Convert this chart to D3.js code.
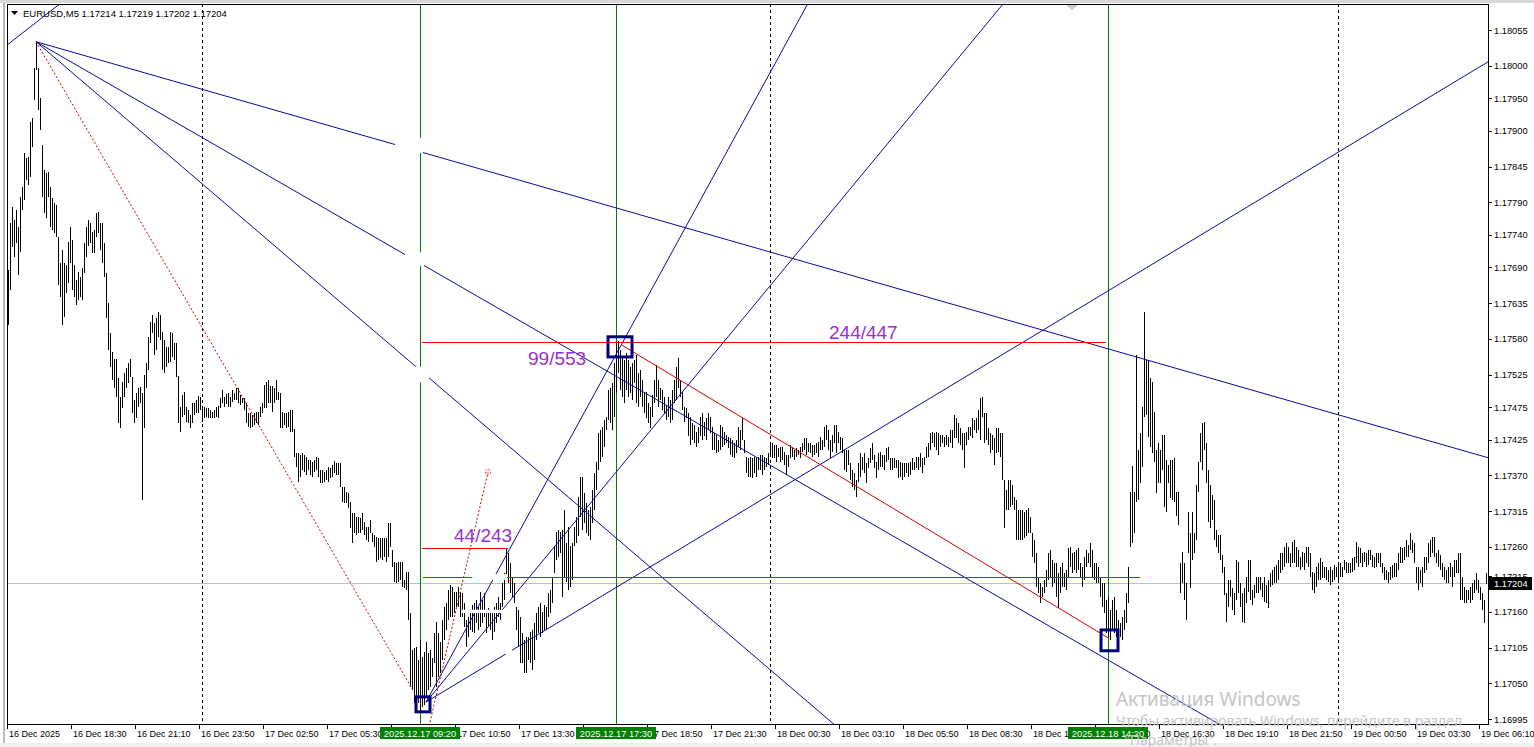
<html>
<head>
<meta charset="utf-8">
<script src="https://d3js.org/d3.v7.min.js"></script>
<style>
  body { margin: 0; background: #fff; overflow: hidden; }
  text { font-family: "Liberation Sans", Arial, sans-serif; }
</style>
</head>
<body>
<div id="chart"></div>
<script>

// EURUSD M5 bars, 16 Dec 15:50 .. 19 Dec 06:10
// prices kept in points (0.00001) above 1.17000
var basePrice = 1.17, pt = 0.00001;

var highPts = [
  686,758,783,763,778,752,798,813,866,858, 860,913,920,996,1037,996,950,878,840,835,
  837,813,797,789,786,737,697,717,697,694, 729,752,732,694,670,683,675,689,727,752,
  763,758,744,747,773,775,758,758,727,681, 635,
  589,560,549,549,520,490,513,527,535,543, 549,521,486,496,504,506,496,524,543,583,
  606,617,604,612,621,617,590,578,567,567, 590,589,573,573,523,475,493,498,475,470,
  463,481,481,486,492,490,475,475,473,473, 470,467,470,475,477,489,501,490,495,496,
  490,501,496,504,504,493,489,489,481,466, 466,463,466,467,467,475,481,509,513,517,
  507,507,504,517,498,496,467,466,466,467, 470,470,441,404,404,401,404,401,398,393,
  393,390,393,398,396,378,378,375,378,383, 381,386,392,389,389,389,352,352,344,343,
  329,312,312,306,306,304,312,298,290,290, 301,281,278,275,273,273,273,273,273,296,
  296,255,236,235,236,236,236,209,221,221, 158,101,104,106,86,
  117,90,98,113,96,101,89,127,144,127, 113,147,167,173,194,201,198,190,190,198,
  190,189,173,147,152,163,170,173,178,167, 190,178,189,163,166,158,160,167,173,183,
  173,204,219,258,250,235,213,204,167,163, 152,127,117,121,121,129,132,143,158,167,
  173,160,170,167,189,194,213,261,282,286,283,
  286,317,266,291,261,266,291,306,337,368, 368,343,327,317,321,347,373,390,435,439,
  444,455,460,501,504,512,543,573,577,563, 552,547,558,547,537,543,547,555,527,532,
  517,498,498,481,475,493,517,540,517,504, 501,490,478,490,486,501,517,537,550,517,
  498,475,473,466,460,450,447,436,444,460, 466,452,458,466,460,444,435,432,424,447,
  444,436,432,429,427,424,420,424,444,440, 458,424,398,396,398,396,398,396,398,401,
  401,398,396,404,421,420,416,416,412,413, 413,406,401,401,416,413,409,412,409,413,
  420,427,427,420,420,416,416,420,421,429, 424,444,447,440,424,432,447,447,436,429,
  427,409,409,409,389,378,373,363,389,404, 398,404,389,396,412,420,401,390,404,406,
  401,401,412,413,396,396,396,393,393,390, 389,389,389,389,390,396,390,398,398,404,
  396,398,413,420,435,436,435,436,435,432, 432,429,432,429,440,440,463,458,450,443,
  435,435,436,444,444,458,455,458,470,489, 490,466,466,443,435,432,427,443,443,435,
  435,363,347,363,
  363,355,337,332,317,317,317,314,317,320, 306,281,270,250,213,204,198,209,224,250,
  255,240,235,235,219,229,235,219,224,258, 260,250,252,255,258,235,229,244,255,250,
  266,255,235,235,229,213,204,204,178,183, 163,178,183,163,147,143,152,163,189,229,
  344,384,344,555,409,435,475,621,547,547, 520,513,467,409,420,409,432,432,393,386,
  393,393,396,344,344,235,252,235,204,313, 281,313,281,355,390,435,450,452,420,378,
  355,340,332,286,278,278,247,229,189,209, 209,197,189,240,236,204,189,197,214,240,
  240,194,201,214,214,214,204,214,201,209, 219,224,229,232,240,250,250,260,266,260,
  250,267,270,260,255,244,252,250,260,260, 250,221,219,229,235,243,236,229,229,224,
  229,224,232,229,236,235,229,240,236,235, 235,243,244,267,260,258,250,252,250,255,
  255,247,244,250,250,250,235,229,224,221, 229,232,235,235,250,260,258,260,270,263,
  281,270,266,229,229,224,229,244,244,266, 270,275,275,250,255,247,235,229,224,229,
  235,229,240,240,250,250,214,198,194,194, 198,204,209,219,209,198,189,178,219
];

var lowPts = [
  601,655,721,706,727,678,713,778,793,824, 816,829,875,947,993,932,901,798,773,766,
  798,752,747,742,737,663,644,601,613,650, 666,697,655,644,632,640,644,640,681,706,
  722,727,712,712,737,742,717,697,675,612, 563,
  537,517,504,490,450,443,473,490,504,512, 521,466,450,458,475,481,332,443,504,532,
  573,589,555,563,583,578,532,527,537,543, 544,552,547,521,450,437,460,463,452,450,
  443,450,463,466,466,470,452,458,460,458, 458,458,458,460,458,473,481,475,480,475,
  475,483,486,486,481,478,481,470,450,445, 443,445,447,450,447,460,466,473,473,481,
  481,467,481,486,486,443,443,447,443,445, 436,436,398,383,360,367,378,375,370,378,
  370,367,375,378,367,358,358,360,363,360, 366,367,373,370,370,352,329,327,327,320,
  289,266,281,278,281,281,286,278,270,267, 281,267,260,236,239,243,239,244,236,244,
  260,229,206,204,206,209,198,197,193,148, 44,40,19,13,19,
  4,13,16,31,40,44,60,81,44,60, 66,86,117,132,147,152,152,158,167,167,
  152,152,137,106,121,132,129,127,143,132, 137,143,152,127,137,132,117,129,143,152,
  147,167,178,213,204,189,183,173,132,106, 81,81,66,66,86,81,70,86,117,127,
  121,127,132,132,152,158,173,219,240,244,250,
  183,214,205,194,198,209,261,266,276,306, 286,297,281,276,270,297,317,347,378,390,
  398,414,440,455,450,440,460,498,527,501, 490,481,501,490,496,486,512,481,475,490,
  475,466,458,450,443,460,481,490,475,486, 470,466,455,460,450,455,481,486,504,490,
  470,452,458,430,417,424,420,413,420,430, 424,430,424,440,435,409,409,404,406,409,
  413,416,420,412,401,398,396,404,413,409, 424,404,373,367,367,366,373,367,378,378,
  370,378,383,386,401,396,396,390,398,390, 393,386,370,383,396,398,393,398,401,396,
  406,409,401,406,404,398,401,404,398,409, 409,413,424,409,396,406,420,404,420,409,
  404,378,375,386,363,352,347,337,360,367, 378,373,358,381,389,393,381,366,378,383,
  383,378,390,393,378,378,381,381,366,367, 363,367,373,367,370,378,378,381,378,383,
  373,386,396,398,409,420,413,409,401,413, 420,413,416,413,420,412,427,427,420,416,
  409,381,416,424,430,427,440,435,440,424, 460,420,424,416,404,409,386,404,406,398,
  363,289,317,317,
  321,324,317,270,270,270,270,273,276,281, 281,244,235,198,189,173,183,189,198,209,
  214,198,204,183,166,189,198,198,194,214, 229,219,224,219,224,214,198,209,229,235,
  229,214,209,204,204,183,167,158,127,121, 117,132,127,121,127,121,117,132,143,173,
  259,266,281,329,332,358,383,460,463,429, 413,404,390,343,358,358,378,321,313,358,
  335,332,329,307,293,189,204,178,147,250, 197,240,250,270,345,390,378,409,358,298,
  289,301,270,260,250,240,219,186,145,167, 183,163,155,178,189,167,145,143,173,190,
  178,170,181,189,189,194,183,175,173,166, 198,201,204,204,209,219,224,229,235,235,
  229,235,235,229,229,224,229,224,235,229, 214,194,189,198,209,209,212,212,209,206,
  201,206,209,214,204,214,214,224,219,219, 219,221,224,235,229,235,229,236,229,232,
  240,229,227,229,235,229,219,209,209,204, 209,212,214,214,224,235,235,240,244,244,
  255,250,235,204,194,204,198,219,224,235, 244,250,244,235,229,224,214,209,204,204,
  214,198,214,219,219,178,178,173,173,178, 173,178,189,194,189,178,163,143,202
];

var priceTicks = [1.18055, 1.18000, 1.17950, 1.17900, 1.17845, 1.17790, 1.17740, 1.17690,
  1.17635, 1.17580, 1.17525, 1.17475, 1.17425, 1.17370, 1.17315, 1.17260, 1.17215,
  1.17160, 1.17105, 1.17050, 1.16995];

// one label every 32 bars
var timeLabelStep = 32;
var timeLabels = ["16 Dec 2025", "16 Dec 18:30", "16 Dec 21:10", "16 Dec 23:50", "17 Dec 02:50",
  "17 Dec 05:30", "17 Dec 08:10", "17 Dec 10:50", "17 Dec 13:30", "17 Dec 16:10", "17 Dec 18:50",
  "17 Dec 21:30", "18 Dec 00:30", "18 Dec 03:10", "18 Dec 05:50", "18 Dec 08:30", "18 Dec 11:10",
  "18 Dec 13:50", "18 Dec 16:30", "18 Dec 19:10", "18 Dec 21:50", "19 Dec 00:50", "19 Dec 03:30",
  "19 Dec 06:10"];

var daySeparatorBars = [97, 381, 665];
var markerBars = [206, 304, 550];
var markerLabels = ["2025.12.17 09:20", "2025.12.17 17:30", "2025.12.18 14:20"];

var lastPrice = 1.17204;
var headerText = "EURUSD,M5  1.17214 1.17219 1.17202 1.17204";

// drawn objects, points as [bar, price]
var fanTop = [14, 1.18037];
var fanTopThrough = [[740, 1.17397], [600, 1.16997], [400, 1.17021]];
var fanBottom = [209, 1.17021];
var fanBottomThrough = [[306, 1.17567], [400, 1.17732], [740, 1.18006]];
var cornerRay = [[0, 1.18033], [25, 1.18093]];

var levelLines = [[207, 549, 1.17575], [207, 250, 1.17258], [207.5, 566, 1.17213]];
var redTrend = [[307, 1.17570], [550, 1.17120]];
var redDotted = [[[14, 1.18037], [208, 1.17010]], [[211, 1.16990], [240, 1.17375]]];
var boxes = [[300, 1.17583, 312, 1.17552], [204, 1.17029, 211, 1.17006], [546.5, 1.17132, 555, 1.17100]];
var countLabels = [["99/553", 260, 1.17540], ["244/447", 410.5, 1.17580], ["44/243", 223, 1.17267]];

// blank (white) label objects that hide parts of the lines
var blankObjects = [[193.5, 1.17889, 207.5, 1.17866], [198.5, 1.17713, 208, 1.17692],
  [202, 1.17537, 210.5, 1.17513], [232, 1.17218, 249.5, 1.17209], [227, 1.17163, 251, 1.17158],
  [243.5, 1.17110, 252, 1.17095]];

var W = 1534, H = 747;
var frame = { left: 7, top: 4, right: 1488, bottom: 724 };

var svg = d3.select("#chart").append("svg")
    .attr("width", W)
    .attr("height", H);

svg.append("rect").attr("width", W).attr("height", H).attr("fill", "#fff");
svg.append("rect").attr("width", W).attr("height", 3).attr("fill", "#d8d8d8");
svg.append("rect").attr("x", 3).attr("y", 3).attr("width", 2).attr("height", H).attr("fill", "#b8b8b8");
svg.append("rect").attr("y", 743).attr("width", W).attr("height", 4).attr("fill", "#f0f0f0");

var x = d3.scaleLinear().domain([0, 739]).range([8, 1486]);
var y = d3.scaleLinear().domain([1.16995, 1.18055]).range([719, 30]);
function px(b) { return Math.round(x(b)) + 0.5; }
function py(p) { return Math.round(y(p)) + 0.5; }
function pt2(d) { return [x(d[0]), y(d[1])]; }

svg.append("clipPath").attr("id", "plot")
  .append("rect")
    .attr("x", frame.left + 1).attr("y", frame.top + 1)
    .attr("width", frame.right - frame.left - 1)
    .attr("height", frame.bottom - frame.top - 1);

var plot = svg.append("g").attr("clip-path", "url(#plot)");

// day separators
plot.selectAll(".sep")
  .data(daySeparatorBars)
  .enter().append("line")
    .attr("class", "sep")
    .attr("x1", px).attr("x2", px)
    .attr("y1", frame.top).attr("y2", frame.bottom)
    .attr("stroke", "#000")
    .attr("stroke-dasharray", "3,3");

// current price line
plot.append("line")
    .attr("x1", frame.left).attr("x2", frame.right)
    .attr("y1", py(lastPrice)).attr("y2", py(lastPrice))
    .attr("stroke", "#c0c0c0");

// green time markers
plot.selectAll(".mk")
  .data(markerBars)
  .enter().append("line")
    .attr("class", "mk")
    .attr("x1", px).attr("x2", px)
    .attr("y1", frame.top).attr("y2", frame.bottom)
    .attr("stroke", "#008000");

// price bars
plot.append("g")
    .attr("shape-rendering", "crispEdges")
  .selectAll("line")
  .data(highPts.map(function (h, i) { return { i: i, hi: basePrice + h * pt, lo: basePrice + lowPts[i] * pt }; }))
  .enter().append("line")
    .attr("x1", function (d) { return px(d.i); })
    .attr("x2", function (d) { return px(d.i); })
    .attr("y1", function (d) { return Math.round(y(d.hi)); })
    .attr("y2", function (d) { return Math.max(Math.round(y(d.lo)), Math.round(y(d.hi)) + 1); })
    .attr("stroke", "#000");

// blue fan rays
function ray(a, b) {
  var p = pt2(a), q = pt2(b);
  return [p, [p[0] + (q[0] - p[0]) * 60, p[1] + (q[1] - p[1]) * 60]];
}
var rays = fanTopThrough.map(function (d) { return ray(fanTop, d); })
  .concat(fanBottomThrough.map(function (d) { return ray(fanBottom, d); }))
  .concat([ray(cornerRay[0], cornerRay[1])]);

plot.selectAll(".ray")
  .data(rays)
  .enter().append("line")
    .attr("class", "ray")
    .attr("x1", function (d) { return d[0][0]; })
    .attr("y1", function (d) { return d[0][1]; })
    .attr("x2", function (d) { return d[1][0]; })
    .attr("y2", function (d) { return d[1][1]; })
    .attr("stroke", "#0a0a96");

// red levels and trend
plot.selectAll(".lvl")
  .data(levelLines)
  .enter().append("path")
    .attr("class", "lvl")
    .attr("d", function (d) { return "M" + x(d[0]) + "," + py(d[2]) + "H" + x(d[1]); })
    .attr("fill", "none")
    .attr("stroke", "#ff0000");

plot.append("line")
    .attr("x1", x(redTrend[0][0])).attr("y1", y(redTrend[0][1]))
    .attr("x2", x(redTrend[1][0])).attr("y2", y(redTrend[1][1]))
    .attr("stroke", "#d40000");

plot.selectAll(".dot")
  .data(redDotted)
  .enter().append("line")
    .attr("class", "dot")
    .attr("x1", function (d) { return x(d[0][0]); })
    .attr("y1", function (d) { return y(d[0][1]); })
    .attr("x2", function (d) { return x(d[1][0]); })
    .attr("y2", function (d) { return y(d[1][1]); })
    .attr("stroke", "#c80000")
    .attr("stroke-dasharray", "2,2");

var dotEnd = redDotted[1][1];
plot.append("circle")
    .attr("cx", x(dotEnd[0])).attr("cy", y(dotEnd[1])).attr("r", 2.5)
    .attr("fill", "none").attr("stroke", "#c80000").attr("stroke-dasharray", "1.5,1.5");

// white blank objects
plot.selectAll(".blank")
  .data(blankObjects)
  .enter().append("rect")
    .attr("class", "blank")
    .attr("x", function (d) { return x(d[0]); })
    .attr("y", function (d) { return y(d[1]); })
    .attr("width", function (d) { return x(d[2]) - x(d[0]); })
    .attr("height", function (d) { return y(d[3]) - y(d[1]); })
    .attr("fill", "#fff");

// rectangles
plot.selectAll(".box")
  .data(boxes)
  .enter().append("rect")
    .attr("class", "box")
    .attr("x", function (d) { return x(d[0]); })
    .attr("y", function (d) { return y(d[1]); })
    .attr("width", function (d) { return x(d[2]) - x(d[0]); })
    .attr("height", function (d) { return y(d[3]) - y(d[1]); })
    .attr("fill", "none")
    .attr("stroke", "#00007a")
    .attr("stroke-width", 3);

plot.selectAll(".cnt")
  .data(countLabels)
  .enter().append("text")
    .attr("class", "cnt")
    .attr("x", function (d) { return x(d[1]); })
    .attr("y", function (d) { return y(d[2]); })
    .attr("fill", "#9a2fd0")
    .style("font-size", "19px")
    .text(function (d) { return d[0]; });

// frame
svg.append("rect")
    .attr("x", frame.left + 0.5).attr("y", frame.top + 0.5)
    .attr("width", frame.right - frame.left).attr("height", frame.bottom - frame.top)
    .attr("fill", "none").attr("stroke", "#000");

// top shift marker
svg.append("path")
    .attr("d", "M1066,5 L1078,5 L1072,10 Z")
    .attr("fill", "#c8c8c8");

// price axis
var pa = svg.append("g");
pa.selectAll("line")
  .data(priceTicks)
  .enter().append("line")
    .attr("x1", frame.right).attr("x2", frame.right + 4)
    .attr("y1", py).attr("y2", py)
    .attr("stroke", "#000");
pa.selectAll("text")
  .data(priceTicks)
  .enter().append("text")
    .attr("x", frame.right + 6)
    .attr("y", function (d) { return y(d) + 3.5; })
    .style("font-size", "9.3px")
    .text(function (d) { return d.toFixed(5); });

svg.append("rect")
    .attr("x", frame.right + 1).attr("y", Math.round(y(lastPrice)) - 6)
    .attr("width", 43).attr("height", 13)
    .attr("fill", "#000");
svg.append("text")
    .attr("x", frame.right + 6).attr("y", y(lastPrice) + 4)
    .attr("fill", "#fff")
    .style("font-size", "9.3px")
    .text(lastPrice.toFixed(5));

// time axis
var ta = svg.append("g");
ta.selectAll("line")
  .data(timeLabels)
  .enter().append("line")
    .attr("x1", function (d, k) { return px(k * timeLabelStep) - 1; })
    .attr("x2", function (d, k) { return px(k * timeLabelStep) - 1; })
    .attr("y1", frame.bottom).attr("y2", frame.bottom + 5)
    .attr("stroke", "#000");
ta.selectAll("text")
  .data(timeLabels)
  .enter().append("text")
    .attr("x", function (d, k) { return x(k * timeLabelStep) + 1; })
    .attr("y", 737)
    .style("font-size", "9px")
    .text(function (d) { return d; });

var mk = svg.append("g");
mk.selectAll("rect")
  .data(markerBars)
  .enter().append("rect")
    .attr("x", function (d) { return x(d) - 40; })
    .attr("y", 727)
    .attr("width", 80).attr("height", 12)
    .attr("fill", "#008000");
mk.selectAll("text")
  .data(markerBars)
  .enter().append("text")
    .attr("x", function (d) { return x(d); })
    .attr("y", 737)
    .attr("text-anchor", "middle")
    .attr("fill", "#fff")
    .style("font-size", "9.3px")
    .text(function (d, k) { return markerLabels[k]; });

// header
svg.append("path").attr("d", "M11,11 L18,11 L14.5,15 Z").attr("fill", "#000");
svg.append("text")
    .attr("x", 23).attr("y", 16.5)
    .style("font-size", "9.5px")
    .text(headerText);

// windows activation watermark
var wm = svg.append("g").attr("fill", "#c4c4c4");
wm.append("text").attr("x", 1116).attr("y", 706).style("font-size", "19px").style("font-family", "'Noto Sans', sans-serif").text("Активация Windows");
wm.append("text").attr("x", 1116).attr("y", 726).style("font-size", "14px").style("font-family", "'Noto Sans', sans-serif").text("Чтобы активировать Windows, перейдите в раздел");
wm.append("text").attr("x", 1124).attr("y", 745).style("font-size", "14px").style("font-family", "'Noto Sans', sans-serif").text("\"Параметры\".");

</script>
</body>
</html>
